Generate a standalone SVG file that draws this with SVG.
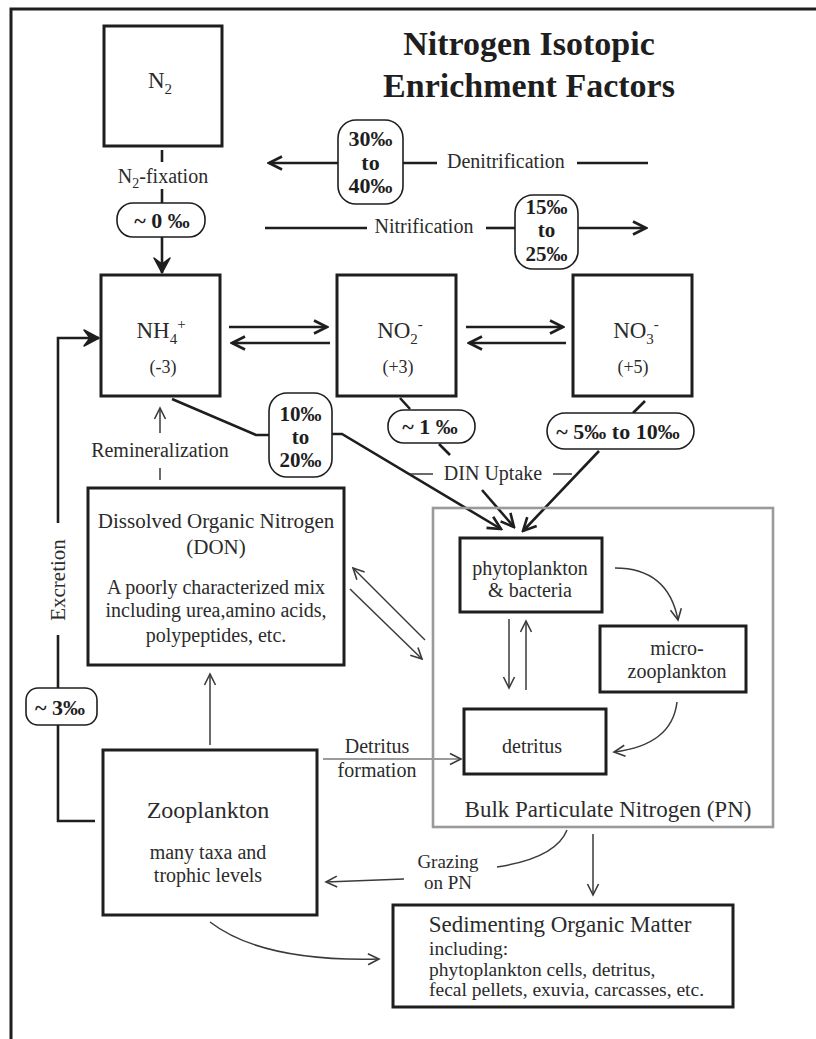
<svg xmlns="http://www.w3.org/2000/svg" width="816" height="1039" viewBox="0 0 816 1039">
<style>
text{font-family:"Liberation Serif","Times New Roman",serif;fill:#2b2b2b}
.box{fill:#fff;stroke:#1e1e1e;stroke-width:3}
.pill{fill:#fff;stroke:#1e1e1e;stroke-width:1.6}
.pn{fill:none;stroke:#9a9a9a;stroke-width:2.6}
.thk{fill:none;stroke:#1e1e1e;stroke-width:2.6}
.thn{fill:none;stroke:#3a3a3a;stroke-width:1.5}
.gry{fill:none;stroke:#7a7a7a;stroke-width:1.6}
.lab{font-size:20px}
.big{font-size:23px}
.mid{font-size:20px}
.b{font-weight:bold;font-size:22px;fill:#1e1e1e}
.b2{font-weight:bold;font-size:21px;fill:#1e1e1e}
.m{text-anchor:middle}
</style>
<defs>
<marker id="ak" viewBox="-16 -10 18 20" refX="0" refY="0" markerWidth="18" markerHeight="20" orient="auto" markerUnits="userSpaceOnUse">
<path d="M-13,-6.5 L0,0 L-13,6.5" fill="none" stroke="#1e1e1e" stroke-width="2.6"/>
</marker>
<marker id="af" viewBox="-16 -10 18 20" refX="0" refY="0" markerWidth="18" markerHeight="20" orient="auto" markerUnits="userSpaceOnUse">
<path d="M-15,-8 L0,0 L-15,8 L-9,0 Z" fill="#1e1e1e" stroke="#1e1e1e" stroke-width="1.5" stroke-linejoin="round"/>
</marker>
<marker id="at" viewBox="-14 -8 16 16" refX="0" refY="0" markerWidth="16" markerHeight="16" orient="auto" markerUnits="userSpaceOnUse">
<path d="M-11,-5.5 L0,0 L-11,5.5" fill="none" stroke="#3a3a3a" stroke-width="1.6"/>
</marker>
</defs>
<rect width="816" height="1039" fill="#fff"/>
<path d="M11,1039 L11,9 L816,9" fill="none" stroke="#1e1e1e" stroke-width="3"/>

<g id="title">
<text x="529" y="55" class="m" style="font-size:34px;font-weight:bold;fill:#1e1e1e">Nitrogen Isotopic</text>
<text x="529" y="97" class="m" style="font-size:34px;font-weight:bold;fill:#1e1e1e">Enrichment Factors</text>
</g>

<g id="connectors">
<line x1="162" y1="150" x2="162" y2="162" class="thk"/>
<line x1="162" y1="189" x2="162" y2="203" class="thk"/>
<line x1="162" y1="237" x2="162" y2="273" class="thk" marker-end="url(#af)"/>
<line x1="338" y1="163" x2="269" y2="163" class="thk" marker-end="url(#ak)"/>
<line x1="403" y1="163" x2="437" y2="163" class="thk"/>
<line x1="577" y1="163" x2="648" y2="163" class="thk"/>
<line x1="265" y1="228" x2="367" y2="228" class="thk"/>
<line x1="486" y1="228" x2="515" y2="228" class="thk"/>
<line x1="578" y1="228" x2="646" y2="228" class="thk" marker-end="url(#ak)"/>
<line x1="229" y1="327" x2="327" y2="327" class="thk" marker-end="url(#ak)"/>
<line x1="330" y1="343" x2="232" y2="343" class="thk" marker-end="url(#ak)"/>
<line x1="466" y1="327" x2="563" y2="327" class="thk" marker-end="url(#ak)"/>
<line x1="566" y1="343" x2="469" y2="343" class="thk" marker-end="url(#ak)"/>
<polyline points="95,821 58,821 58,725" class="thk"/>
<line x1="58" y1="688" x2="58" y2="635" class="thk"/>
<polyline points="58,523 58,338 99,338" class="thk" marker-end="url(#af)"/>
<line x1="160" y1="480" x2="160" y2="468" class="thn"/>
<line x1="160" y1="433" x2="160" y2="408" class="thn" marker-end="url(#at)"/>
<line x1="210" y1="745" x2="210" y2="674" class="thn" marker-end="url(#at)"/>
<line x1="425" y1="640" x2="353" y2="568" class="thn" marker-end="url(#at)"/>
<line x1="350" y1="589" x2="422" y2="659" class="thn" marker-end="url(#at)"/>
<line x1="323" y1="759" x2="461" y2="759" class="gry" marker-end="url(#at)"/>
<polyline points="172,399 256,435 269,435" class="thk"/>
<polyline points="332,434 342,434 501,529" class="thk" marker-end="url(#ak)"/>
<line x1="400" y1="398" x2="410" y2="409" class="thk"/>
<line x1="439" y1="444" x2="450" y2="455" class="thk"/>
<line x1="482" y1="490" x2="514" y2="527" class="thk" marker-end="url(#ak)"/>
<line x1="645" y1="401" x2="633" y2="413" class="thk"/>
<line x1="599" y1="451" x2="523" y2="531" class="thk" marker-end="url(#ak)"/>
<line x1="410" y1="474" x2="433" y2="474" class="thn"/>
<line x1="553" y1="474" x2="572" y2="474" class="thn"/>
<line x1="509" y1="619" x2="509" y2="688" class="thn" marker-end="url(#at)"/>
<line x1="526" y1="690" x2="526" y2="621" class="thn" marker-end="url(#at)"/>
<path d="M615,568 Q668,568 678,620" class="thn" marker-end="url(#at)"/>
<path d="M677,702 Q672,745 614,752" class="thn" marker-end="url(#at)"/>
<path d="M567,830 Q556,858 497,867" class="thn"/>
<line x1="404" y1="879" x2="326" y2="882" class="thn" marker-end="url(#at)"/>
<line x1="593" y1="834" x2="593" y2="895" class="thn" marker-end="url(#at)"/>
<path d="M210,922 Q262,962 379,959" class="thn" marker-end="url(#at)"/>
</g>

<g id="labels">
<text x="163" y="183" class="lab m">N<tspan dy="5" font-size="14">2</tspan><tspan dy="-5">-fixation</tspan></text>
<text x="447" y="168" class="lab">Denitrification</text>
<text x="424" y="233" class="lab m">Nitrification</text>
<text x="160" y="457" class="lab m">Remineralization</text>
<text x="493" y="480" class="lab m">DIN Uptake</text>
<text transform="translate(65,580) rotate(-90)" class="lab m" style="font-size:21px">Excretion</text>
<text x="377" y="753" class="lab m">Detritus</text>
<text x="377" y="777" class="lab m">formation</text>
<text x="448" y="868" class="m" style="font-size:19px">Grazing</text>
<text x="448" y="889" class="m" style="font-size:19px">on PN</text>
</g>

<g id="pill-n2fix">
<rect x="117" y="203" width="88" height="34" rx="16" class="pill"/>
<text x="162" y="228" class="b m">~ 0 ‰</text>
</g>
<g id="pill-denit">
<rect x="338" y="120" width="65" height="84" rx="18" class="pill"/>
<text x="370.5" y="146" class="b m">30‰</text>
<text x="370.5" y="170" class="b m">to</text>
<text x="370.5" y="193" class="b m">40‰</text>
</g>
<g id="pill-nit">
<rect x="515" y="195" width="63" height="74" rx="18" class="pill"/>
<text x="546.5" y="214" class="b2 m">15‰</text>
<text x="546.5" y="237" class="b2 m">to</text>
<text x="546.5" y="261" class="b2 m">25‰</text>
</g>
<g id="pill-nh4">
<rect x="269" y="393" width="63" height="84" rx="18" class="pill"/>
<text x="300.5" y="421" class="b2 m">10‰</text>
<text x="300.5" y="444" class="b2 m">to</text>
<text x="300.5" y="467" class="b2 m">20‰</text>
</g>
<g id="pill-no2">
<rect x="388" y="410" width="87" height="33" rx="16" class="pill"/>
<text x="430" y="434" class="b m">~ 1 ‰</text>
</g>
<g id="pill-no3">
<rect x="547" y="413" width="147" height="36" rx="18" class="pill"/>
<text x="618" y="439" class="b m">~ 5‰ to 10‰</text>
</g>
<g id="pill-excr">
<rect x="26" y="688" width="71" height="37" rx="12" class="pill"/>
<text x="60" y="715" class="b m">~ 3‰</text>
</g>

<g id="node-n2">
<rect x="104" y="26" width="118" height="120" class="box"/>
<text x="160" y="88" class="big m">N<tspan dy="6" font-size="15">2</tspan></text>
</g>
<g id="node-nh4">
<rect x="101" y="275" width="119" height="121" class="box"/>
<text x="161" y="338" class="big m">NH<tspan dy="6" font-size="15">4</tspan><tspan dy="-15" font-size="15">+</tspan></text>
<text x="163" y="373" class="m" style="font-size:18px">(-3)</text>
</g>
<g id="node-no2">
<rect x="337" y="275" width="119" height="121" class="box"/>
<text x="400" y="338" class="big m">NO<tspan dy="6" font-size="15">2</tspan><tspan dy="-15" font-size="15">-</tspan></text>
<text x="398" y="373" class="m" style="font-size:18px">(+3)</text>
</g>
<g id="node-no3">
<rect x="573" y="275" width="119" height="121" class="box"/>
<text x="636" y="338" class="big m">NO<tspan dy="6" font-size="15">3</tspan><tspan dy="-15" font-size="15">-</tspan></text>
<text x="633" y="373" class="m" style="font-size:18px">(+5)</text>
</g>
<g id="node-don">
<rect x="88" y="488" width="256" height="177" class="box"/>
<text x="216" y="528" class="m" style="font-size:21px">Dissolved Organic Nitrogen</text>
<text x="216" y="554" class="m" style="font-size:21px">(DON)</text>
<text x="216" y="594" class="m mid">A poorly characterized mix</text>
<text x="216" y="617" class="m mid">including urea,amino acids,</text>
<text x="216" y="642" class="m mid">polypeptides, etc.</text>
</g>
<g id="node-pn">
<rect x="433" y="508" width="340" height="319" class="pn"/>
<text x="608" y="817" class="m big">Bulk Particulate Nitrogen (PN)</text>
</g>
<g id="node-phyto">
<rect x="460" y="538" width="142" height="74" class="box"/>
<text x="530" y="575" class="m mid">phytoplankton</text>
<text x="530" y="597" class="m mid">&amp; bacteria</text>
</g>
<g id="node-micro">
<rect x="600" y="626" width="146" height="66" class="box"/>
<text x="677" y="655" class="m mid">micro-</text>
<text x="677" y="678" class="m mid">zooplankton</text>
</g>
<g id="node-detritus">
<rect x="464" y="709" width="142" height="65" class="box"/>
<text x="532" y="753" class="m mid">detritus</text>
</g>
<g id="node-zoo">
<rect x="103" y="750" width="214" height="165" class="box"/>
<text x="208" y="818" class="m" style="font-size:24px">Zooplankton</text>
<text x="208" y="859" class="m mid">many taxa and</text>
<text x="208" y="882" class="m mid">trophic levels</text>
</g>
<g id="node-sed">
<rect x="393" y="905" width="340" height="102" class="box"/>
<text x="560" y="932" class="m big">Sedimenting Organic Matter</text>
<text x="429" y="955" style="font-size:19.5px">including:</text>
<text x="429" y="976" style="font-size:19.5px">phytoplankton cells, detritus,</text>
<text x="429" y="996" style="font-size:19.5px">fecal pellets, exuvia, carcasses, etc.</text>
</g>
</svg>
